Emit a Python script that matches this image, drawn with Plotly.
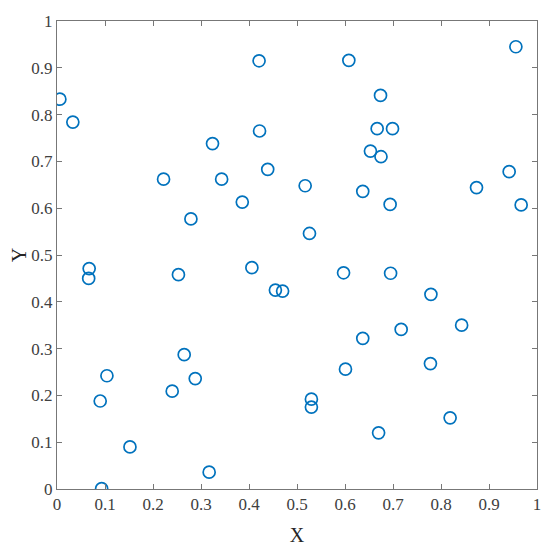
import plotly.graph_objects as go

# scatter values
x_vals = [0.006, 0.033, 0.421, 0.422, 0.324, 0.222, 0.343, 0.386, 0.279,
          0.608, 0.956, 0.674, 0.667, 0.699, 0.653, 0.675, 0.439, 0.517,
          0.637, 0.694, 0.526, 0.874, 0.942, 0.967,
          0.067, 0.066, 0.253, 0.406, 0.455, 0.470, 0.265, 0.104, 0.288,
          0.240, 0.090, 0.152, 0.317, 0.093,
          0.597, 0.695, 0.779, 0.843, 0.717, 0.637, 0.601, 0.778, 0.530,
          0.530, 0.819, 0.670]
y_vals = [0.833, 0.784, 0.915, 0.765, 0.738, 0.662, 0.662, 0.613, 0.577,
          0.916, 0.945, 0.841, 0.770, 0.770, 0.722, 0.710, 0.683, 0.648,
          0.636, 0.608, 0.546, 0.644, 0.678, 0.607,
          0.471, 0.450, 0.458, 0.473, 0.425, 0.423, 0.287, 0.242, 0.236,
          0.209, 0.188, 0.090, 0.036, 0.001,
          0.462, 0.461, 0.416, 0.350, 0.341, 0.322, 0.256, 0.268, 0.192,
          0.175, 0.152, 0.120]

tick_vals = [0, 0.1, 0.2, 0.3, 0.4, 0.5, 0.6, 0.7, 0.8, 0.9, 1]
tick_text = ["0", "0.1", "0.2", "0.3", "0.4", "0.5", "0.6", "0.7", "0.8", "0.9", "1"]

serif = "'Liberation Serif', 'Times New Roman', serif"

fig = go.Figure()
fig.add_trace(go.Scatter(
    x=x_vals, y=y_vals, mode="markers",
    marker=dict(symbol="circle-open", size=12, color="#0072BD",
                line=dict(width=1.7, color="#0072BD")),
    showlegend=False,
))

axis_style = dict(
    range=[0, 1], tickvals=tick_vals, ticktext=tick_text,
    ticks="inside", ticklen=5, tickcolor="#777", tickwidth=1,
    showline=True, linecolor="#777", linewidth=1, mirror="ticks",
    showgrid=False, zeroline=False, automargin=False,
    tickfont=dict(family=serif, size=17, color="#404040"),
)

fig.update_xaxes(**axis_style, title=dict(text="X",
                 font=dict(family=serif, size=20, color="#262626")))
fig.update_yaxes(**axis_style, title=dict(text="Y",
                 font=dict(family=serif, size=20, color="#262626")))

# page body adds an 8px margin, so the figure is sized to fit inside it
fig.update_layout(
    width=542, height=538,
    margin=dict(l=49, r=13, t=13, b=57),
    plot_bgcolor="white", paper_bgcolor="white",
)

fig.write_html("out.html")
